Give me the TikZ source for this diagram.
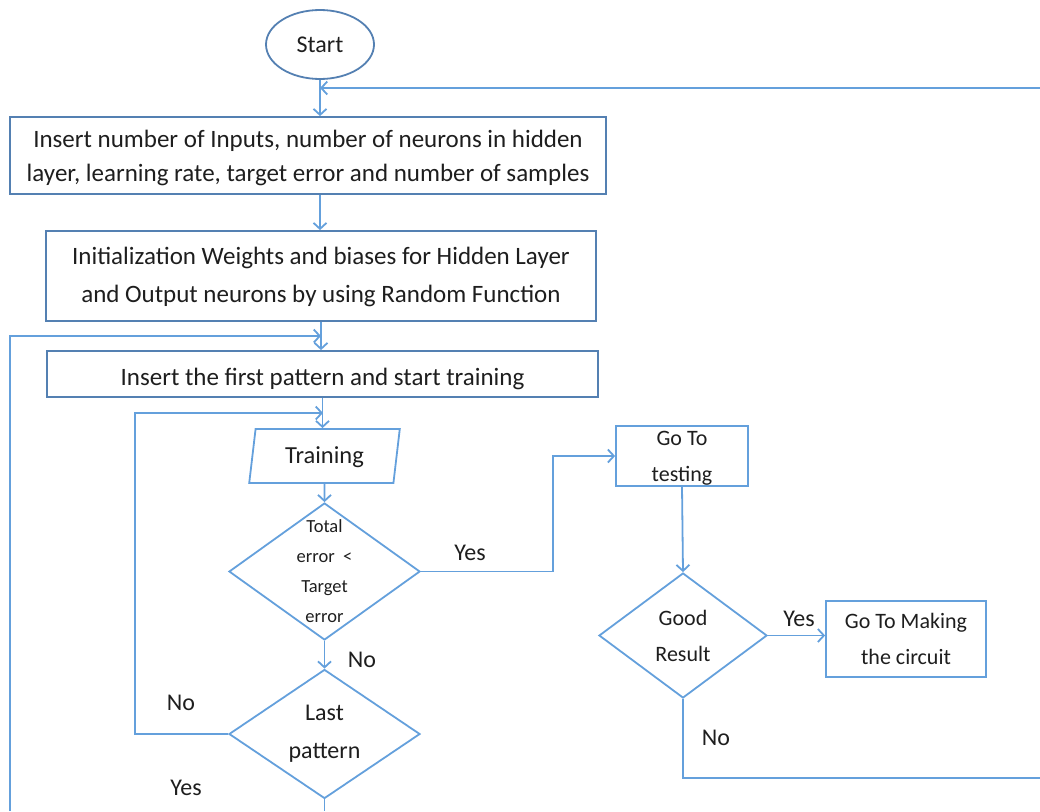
\documentclass[tikz,border=0pt]{standalone}
\usepackage{fontspec}
\setmainfont{Carlito}
\usepackage{tikz}
\usetikzlibrary{shapes.geometric,arrows.meta,positioning,calc}
\usepackage{xcolor}
\definecolor{boxblue}{RGB}{84,128,178}
\definecolor{lineblue}{RGB}{100,160,220}
\definecolor{ink}{RGB}{30,30,30}

\begin{document}
\begin{tikzpicture}[x=1pt, y=-1pt, line width=1.8pt, every node/.style={text=ink}]
    \tikzstyle{box} = [rectangle, draw=boxblue, align=center, inner sep=0pt, font=\fontsize{25}{34}\selectfont]
    \tikzstyle{flow} = [rectangle, draw=lineblue, align=center, inner sep=0pt, font=\fontsize{22}{36}\selectfont]
    \tikzstyle{decision} = [diamond, draw=lineblue, align=center, inner sep=0pt]
    \tikzstyle{arrow} = [-{Straight Barb[length=6pt,width=13pt]}, draw=lineblue]
    \tikzstyle{line} = [draw=lineblue]
    \tikzstyle{lbl} = [font=\fontsize{24}{28}\selectfont]

    \useasboundingbox (0,0) rectangle (1040,811);

    \node[ellipse, draw=boxblue, minimum width=108, minimum height=69, inner sep=0pt, font=\fontsize{24}{28}\selectfont] (start) at (320,44.5) {Start};
    \node[box, minimum width=596, minimum height=77, text depth=0] (inputs) at (308,155.5) {Insert number of Inputs, number of neurons in hidden\\layer, learning rate, target error and number of samples};
    \node[box, minimum width=550, minimum height=90, text depth=2, font=\fontsize{25}{38}\selectfont] (init) at (321,276) {Initialization Weights and biases for Hidden Layer\\and Output neurons by using Random Function};
    \node[box, minimum width=551, minimum height=46, text height=22, text depth=0] (first) at (322.5,374) {Insert the first pattern and start training};
    \node[trapezium, trapezium left angle=78.5, trapezium right angle=101.5, trapezium stretches=true, draw=lineblue, minimum width=151, minimum height=54, inner sep=0pt, text depth=1, font=\fontsize{24.5}{28}\selectfont] (train) at (324.5,456) {Training};
    \node[decision, minimum width=191, minimum height=137, label={[align=center, font=\fontsize{18.5}{30}\selectfont]center:Total\\error~~<\\Target\\error}] (errchk) at (324.5,571.5) {};
    \node[decision, minimum width=191, minimum height=126, font=\fontsize{24}{38}\selectfont] (last) at (324.5,734) {Last\\pattern};
    \node[flow, minimum width=132, minimum height=60, text depth=0] (test) at (682,456) {Go To\\testing};
    \node[decision, minimum width=168, minimum height=125, font=\fontsize{22}{36}\selectfont] (good) at (683,635.5) {Good\\Result};
    \node[flow, minimum width=160, minimum height=76] (circuit) at (906,639) {Go To Making\\the circuit};

    % joints and loose ends at the border
    \coordinate (jtop) at (320,88);
    \coordinate (jmid) at (321,336);
    \coordinate (jtrain) at (323,413);
    \coordinate (yesturn) at (553,571.5);
    \coordinate (noturn) at (135,734);
    \coordinate (rightin) at (1040,88);
    \coordinate (rightout) at (1040,778);
    \coordinate (leftin) at (10,811);
    \coordinate (downout) at (324.5,811);

    \draw[arrow] (start.south) -- (start.south |- inputs.north);
    \draw[arrow] (rightin) -- (jtop);
    \draw[arrow] (start.south |- inputs.south) -- (start.south |- init.north);
    \draw[arrow] (init.south) -- (init.south |- first.north);
    \draw[arrow] (leftin) |- (jmid);
    \draw[arrow] (first.south) -- (first.south |- train.north);
    \draw[arrow] (train.south) -- (errchk.north);
    \draw[arrow] (errchk.south) -- (last.north);
    \draw[arrow] (errchk.east) -- (yesturn) |- (test.west);
    \draw[arrow] (last.west) -- (noturn) |- (jtrain);
    \draw[line] (last.south) -- (downout);
    \draw[arrow] (test.south) -- (good.north);
    \draw[arrow] (good.east) -- (good.east -| circuit.west);
    \draw[line] (good.south) |- (rightout);

    % branch labels
    \node[lbl] (yes1) at (470,553) {Yes};
    \node[lbl] (no1) at (362,660) {No};
    \node[lbl] (no2) at (181,703) {No};
    \node[lbl] (yes2) at (186,788) {Yes};
    \node[lbl] (yes3) at (799,619) {Yes};
    \node[lbl] (no3) at (716,738) {No};
\end{tikzpicture}
\end{document}
